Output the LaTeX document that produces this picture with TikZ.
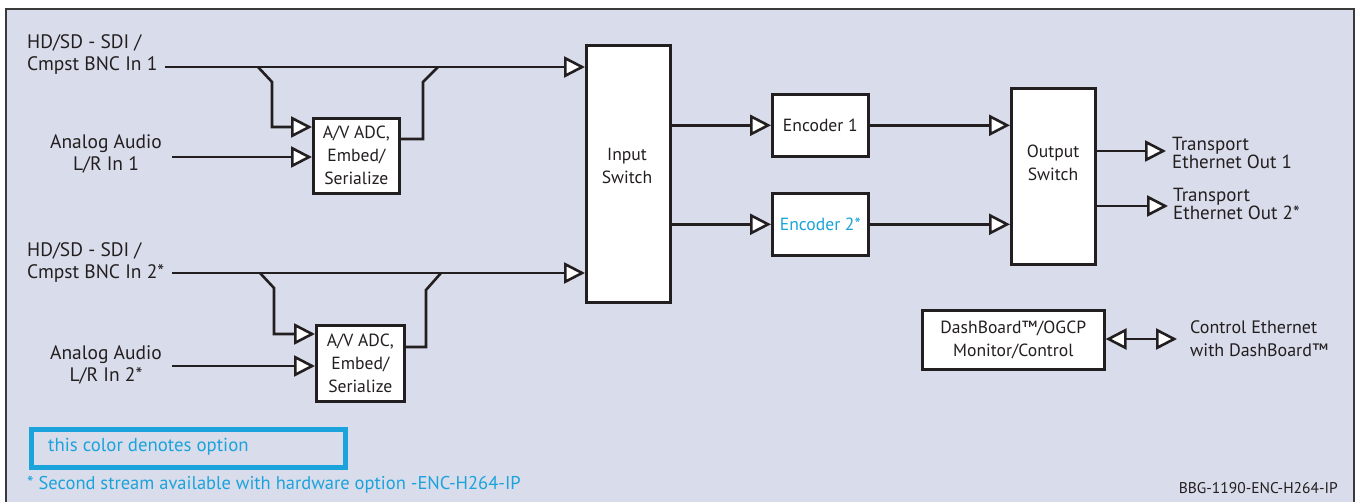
\documentclass[tikz,border=0pt]{standalone}
\usepackage{fontspec}
\setmainfont{PT Sans}
\usetikzlibrary{arrows.meta}
\definecolor{bgc}{HTML}{D9DCEA}
\definecolor{optblue}{HTML}{1BA3DC}
\definecolor{txt}{HTML}{231F20}
\definecolor{framec}{HTML}{3A3A3A}
\tikzset{
  lbl/.style={font=\fontsize{19.5}{22}\selectfont, text=txt, inner sep=0pt},
  boxlbl/.style={font=\fontsize{17.6}{23}\selectfont, text=txt, inner sep=0pt, align=center},
  blk/.style={draw=txt, line width=2.6pt, fill=white, anchor=north west, inner sep=0pt},
  sig/.style={draw=txt, line width=2.6pt, line join=miter,
    -{Triangle[length=21pt,width=21pt,fill=white,line join=miter]}},
  wire/.style={draw=txt, line width=2.6pt, line join=miter},
  dbl/.style={draw=txt, line width=2.6pt,
    {Triangle[length=21pt,width=21pt,fill=white]}-{Triangle[length=21pt,width=21pt,fill=white]}},
}
\begin{document}
\begin{tikzpicture}[x=1pt,y=-1pt]
\useasboundingbox (0,0) rectangle (1356,502);
% frame
\draw[framec, line width=2.2pt, fill=bgc] (6,9) rectangle (1354,520);

% blocks
\node[blk, minimum width=86pt, minimum height=75pt] (adc1) at (312,117) {};
\node[blk, minimum width=88pt, minimum height=76pt] (adc2) at (315,324) {};
\node[blk, minimum width=84pt, minimum height=257pt] (insw) at (585,44) {};
\node[blk, minimum width=96pt, minimum height=62pt] (enc1) at (771,93) {};
\node[blk, minimum width=96pt, minimum height=62pt] (enc2) at (771,192) {};
\node[blk, minimum width=84pt, minimum height=176pt] (outsw) at (1010,87) {};
\node[blk, minimum width=182pt, minimum height=59pt] (dash) at (921,309) {};

% block texts
\node[boxlbl] (adc1t) at (adc1.center) {A/V ADC,\\Embed/\\Serialize};
\node[boxlbl] (adc2t) at (adc2.center) {A/V ADC,\\Embed/\\Serialize};
\node[boxlbl] (inswt) at (627,166) {Input\\Switch};
\node[boxlbl] (enc1t) at (enc1.center) {Encoder 1};
\node[boxlbl, text=optblue] (enc2t) at (enc2.center) {Encoder 2*};
\node[boxlbl] (outswt) at (1053,163) {Output\\Switch};
\node[boxlbl] (dasht) at (dash.center) {DashBoard™/OGCP\\Monitor/Control};

% input labels
\node[lbl, align=left, anchor=west] (in1) at (27,55) {HD/SD - SDI /\\Cmpst BNC In 1};
\node[lbl, align=center] (au1) at (106,154) {Analog Audio\\L/R In 1};
\node[lbl, align=left, anchor=west] (in2) at (27,263) {HD/SD - SDI /\\Cmpst BNC In 2*};
\node[lbl, align=center] (au2) at (106,365) {Analog Audio\\L/R In 2*};

% output labels
\node[lbl, align=left, anchor=west, font=\fontsize{19}{17}\selectfont] (out1) at (1172,153) {Transport\\Ethernet Out 1};
\node[lbl, align=left, anchor=west, font=\fontsize{19}{17}\selectfont] (out2) at (1173,204) {Transport\\Ethernet Out 2*};
\node[lbl, align=left, anchor=west, font=\fontsize{18}{23}\selectfont] (ctl) at (1190,339) {Control Ethernet\\with DashBoard™};

% coordinates
\coordinate (s1) at (165,67);
\coordinate (b1a) at (258,67);
\coordinate (b1b) at (272,82);
\coordinate (b1c) at (272,127);
\coordinate (a1) at (172,157);
\coordinate (o1a) at (423,139);
\coordinate (o1b) at (423,82);
\coordinate (o1c) at (438,67);

\coordinate (s2) at (172,273);
\coordinate (b2a) at (260,273);
\coordinate (b2b) at (274,288);
\coordinate (b2c) at (274,334);
\coordinate (a2) at (172,366);
\coordinate (o2a) at (426,347);
\coordinate (o2b) at (426,290);
\coordinate (o2c) at (441,273);

\coordinate (e1) at (1166,151);
\coordinate (e2) at (1168,206);
\coordinate (c1) at (1177,339);

% connectors
\draw[sig] (s1) -- (insw.west |- s1);
\draw[sig] (b1a) -- (b1b) -- (b1c) -- (adc1.west |- b1c);
\draw[sig] (a1) -- (adc1.west |- a1);
\draw[wire] (adc1.east |- o1a) -- (o1a) -- (o1b) -- (o1c);

\draw[sig] (s2) -- (insw.west |- s2);
\draw[sig] (b2a) -- (b2b) -- (b2c) -- (adc2.west |- b2c);
\draw[sig] (a2) -- (adc2.west |- a2);
\draw[wire] (adc2.east |- o2a) -- (o2a) -- (o2b) -- (o2c);

\draw[sig] (insw.east |- enc1.west) -- (enc1.west);
\draw[sig] (insw.east |- enc2.west) -- (enc2.west);
\draw[sig] (enc1.east) -- (outsw.west |- enc1.east);
\draw[sig] (enc2.east) -- (outsw.west |- enc2.east);
\draw[sig] (outsw.east |- e1) -- (e1);
\draw[sig] (outsw.east |- e2) -- (e2);
\draw[dbl] (dash.east |- c1) -- (c1);

% legend
\node[draw=optblue, line width=4.5pt, minimum width=314pt, minimum height=38pt, anchor=north west, inner sep=0pt] (leg) at (29.25,427.25) {};
\node[lbl, text=optblue, anchor=west, font=\fontsize{18.8}{20}\selectfont] (legt) at (48,447) {this color denotes option};
\node[lbl, text=optblue, anchor=west, font=\fontsize{18.5}{20}\selectfont] (foot) at (27,485) {* Second stream available with hardware option -ENC-H264-IP};
\node[lbl, anchor=east, font=\fontsize{15.5}{16}\selectfont] (code) at (1338,488) {BBG-1190-ENC-H264-IP};
\end{tikzpicture}
\end{document}
